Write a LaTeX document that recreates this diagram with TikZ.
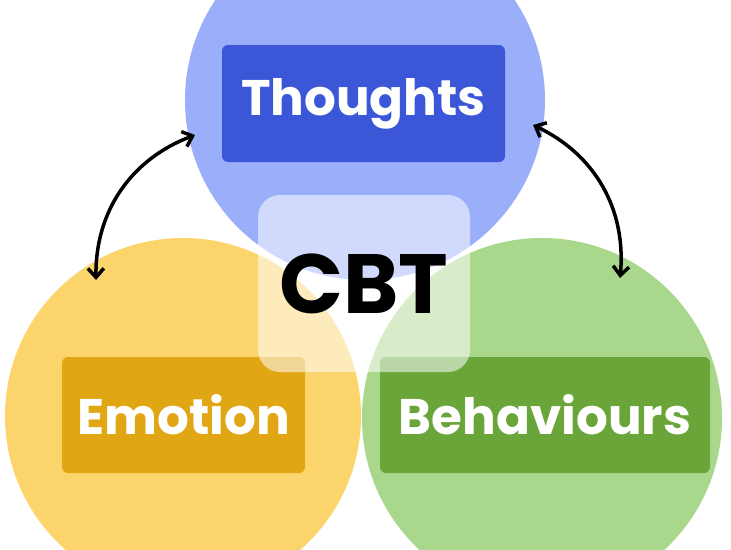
\documentclass[tikz,border=0pt]{standalone}
\usepackage{fontspec}
\setmainfont{Poppins}
\usetikzlibrary{arrows.meta}
\definecolor{thoughtfill}{HTML}{9BAEFA}
\definecolor{thoughtbox}{HTML}{3C56D8}
\definecolor{emofill}{HTML}{FCD46C}
\definecolor{emobox}{HTML}{E1A614}
\definecolor{behfill}{HTML}{A9D78B}
\definecolor{behbox}{HTML}{6AA53A}
\tikzset{
  label box/.style={rounded corners=6pt, text=white, font=\bfseries\fontsize{50}{50}\selectfont, inner sep=0pt},
  link/.style={line width=3.5pt, {Straight Barb[length=9pt,width=16pt]}-{Straight Barb[length=9pt,width=16pt]}},
}
\begin{document}
\begin{tikzpicture}[x=1pt, y=-1pt]
    \useasboundingbox (0,0) rectangle (731,549);
    % Circles
    \begin{scope}
        \clip (0,0) rectangle (731,549);
        \fill[thoughtfill] (365,100) circle (180);
        \fill[emofill] (183,416) circle (178);
        \fill[behfill] (542,418) circle (180);
    \end{scope}

    % Label boxes
    \node[label box, fill=thoughtbox, minimum width=283pt, minimum height=117pt] (thoughts) at (363.5,103.5) {Thoughts};
    \node[label box, fill=emobox, minimum width=243pt, minimum height=116pt] (emotion) at (183.5,415) {Emotion};
    \node[label box, fill=behbox, minimum width=330pt, minimum height=116pt] (behaviours) at (545,415) {Behaviours};

    % Centre
    \node[rounded corners=22pt, fill=white, fill opacity=0.55, text opacity=1, minimum width=212pt, minimum height=177pt, font=\bfseries\fontsize{84}{84}\selectfont] (cbt) at (364,283.5) {CBT};

    % Arrows
    \coordinate (tl) at (195,135);
    \coordinate (el) at (96,280);
    \coordinate (tr) at (533,125);
    \coordinate (br) at (620,278);
    \draw[link] (tl) to[bend right=35] (el);
    \draw[link] (tr) to[bend left=35] (br);
\end{tikzpicture}
\end{document}
